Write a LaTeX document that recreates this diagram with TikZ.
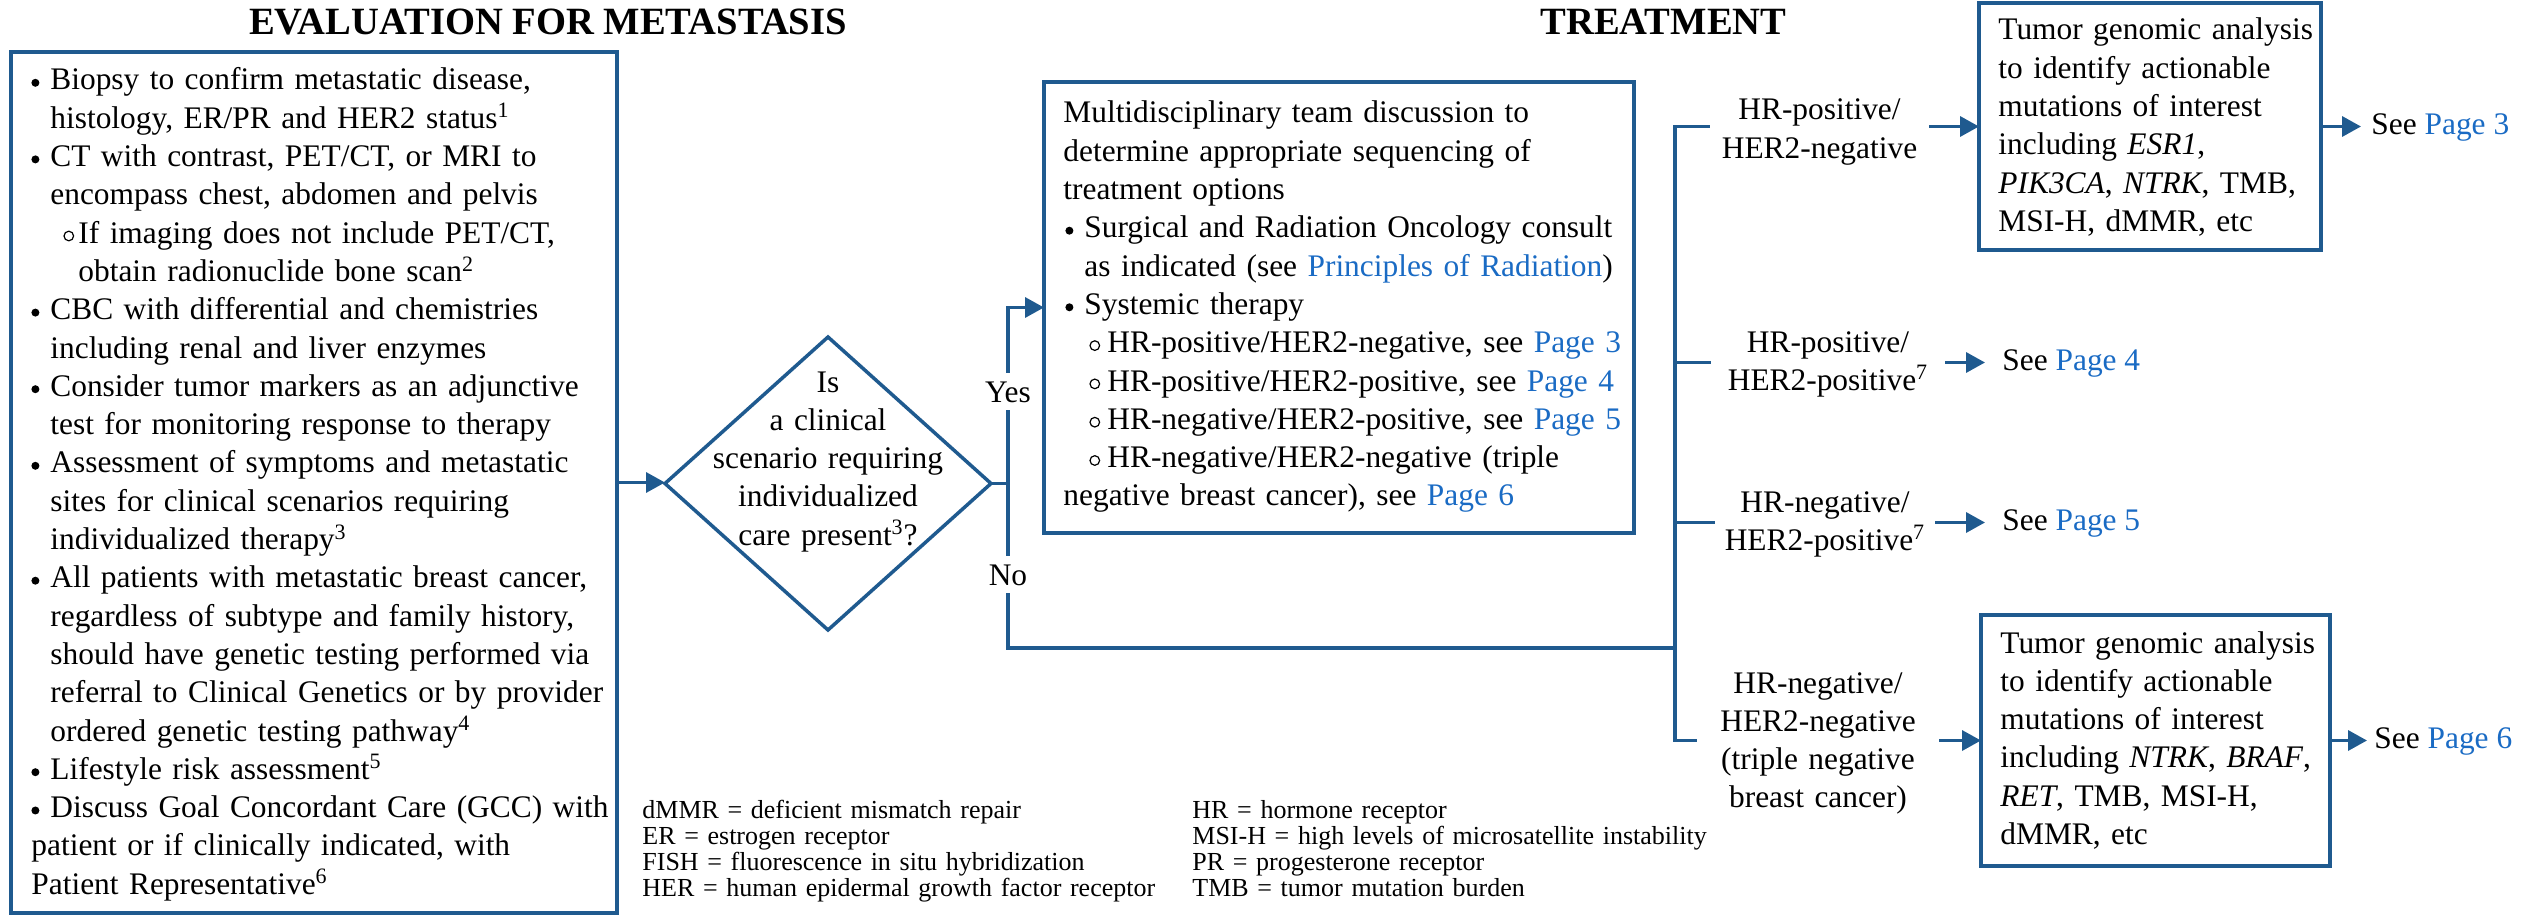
\documentclass[tikz,border=0pt]{standalone}
\usepackage{fontspec}
\setmainfont{Liberation Serif}
\usetikzlibrary{arrows.meta,shapes.geometric}
\definecolor{nccnblue}{HTML}{1F5A8F}
\definecolor{linkblue}{HTML}{1A6BC4}
\newcommand\bul{\tikz[baseline=0pt]\fill (2pt,3.6pt) circle[radius=2pt];}
\newcommand\sbul{\tikz[baseline=0pt]\draw[line width=0.6pt] (2.4pt,3.6pt) circle[radius=2.4pt];}
\newcommand\bfirst[2]{\hangindent=#2\hangafter=1\noindent\makebox[#2][l]{\hspace*{#1}\bul}}
\newcommand\bpar[2]{\par\bfirst{#1}{#2}}
\newcommand\spar[2]{\par\hangindent=#2\hangafter=1\noindent\makebox[#2][l]{\hspace*{#1}\sbul}}
\newcommand\lnk[1]{\textcolor{linkblue}{#1}}
\tikzset{
  box/.style={draw=nccnblue, line width=2pt, inner sep=0pt, outer sep=0pt, anchor=north west},
  conn/.style={draw=nccnblue, line width=1.75pt},
  arr/.style={conn, -{Triangle[length=9.5pt,width=10pt]}},
  body/.style={inner sep=0pt, anchor=base west, align=left, font=\fontsize{15.7}{19.15}\selectfont},
  lbl/.style={inner ysep=0pt, anchor=base, align=center, font=\fontsize{15.7}{19.15}\selectfont},
  see/.style={inner ysep=0pt, anchor=base west, font=\fontsize{15.7}{19.15}\selectfont},
  yn/.style={fill=white, anchor=base, inner xsep=2pt, inner ysep=4pt, font=\fontsize{15.7}{19.15}\selectfont},
  ttl/.style={anchor=base, inner sep=0pt, font=\fontsize{19.3}{22}\selectfont\bfseries},
  leg/.style={anchor=base west, inner sep=0pt, align=left, text width=280pt, font=\fontsize{13}{13.15}\selectfont}
}
\begin{document}
\begin{tikzpicture}[x=0.5pt,y=-0.5pt]
\useasboundingbox (0,0) rectangle (2534,915);
% titles
\node[ttl] (t1) at (548,35) {EVALUATION FOR METASTASIS};
\node[ttl] (t2) at (1663.5,35) {TREATMENT};
% boxes
\node[box, minimum width=303pt, minimum height=430.5pt] (eval) at (11,52) {};
\node[box, minimum width=295pt, minimum height=225.5pt] (mid) at (1044,82) {};
\node[box, minimum width=171pt, minimum height=123.5pt] (top) at (1979,3) {};
\node[box, minimum width=174.5pt, minimum height=125.5pt] (bot) at (1981,615) {};
\node[draw=nccnblue, line width=1.75pt, shape=diamond, minimum width=163pt, minimum height=146.5pt, inner sep=0pt, outer sep=0pt] (dia) at (828,483.5) {};
% box texts
\node[body, text width=300pt] (evaltxt) at (31,90) {\bfirst{0pt}{9.5pt}Biopsy to confirm metastatic disease,\newline histology, ER/PR and HER2 status\textsuperscript{1}
\bpar{0pt}{9.5pt}CT with contrast, PET/CT, or MRI to\newline encompass chest, abdomen and pelvis
\spar{16pt}{23.5pt}If imaging does not include PET/CT,\newline obtain radionuclide bone scan\textsuperscript{2}
\bpar{0pt}{9.5pt}CBC with differential and chemistries\newline including renal and liver enzymes
\bpar{0pt}{9.5pt}Consider tumor markers as an adjunctive\newline test for monitoring response to therapy
\bpar{0pt}{9.5pt}Assessment of symptoms and metastatic\newline sites for clinical scenarios requiring\newline individualized therapy\textsuperscript{3}
\bpar{0pt}{9.5pt}All patients with metastatic breast cancer,\newline regardless of subtype and family history,\newline should have genetic testing performed via\newline referral to Clinical Genetics or by provider\newline ordered genetic testing pathway\textsuperscript{4}
\bpar{0pt}{9.5pt}Lifestyle risk assessment\textsuperscript{5}
\bpar{0pt}{9.5pt}Discuss Goal Concordant Care (GCC) with\newline patient or if clinically indicated, with\newline Patient Representative\textsuperscript{6}};
\node[body, text width=290pt] (midtxt) at (1063,123) {Multidisciplinary team discussion to\newline determine appropriate sequencing of\newline treatment options
\bpar{1pt}{10.5pt}Surgical and Radiation Oncology consult\newline as indicated (see \lnk{Principles of Radiation})
\bpar{1pt}{10.5pt}Systemic therapy
\spar{13pt}{22pt}HR-positive/HER2-negative, see \lnk{Page 3}
\spar{13pt}{22pt}HR-positive/HER2-positive, see \lnk{Page 4}
\spar{13pt}{22pt}HR-negative/HER2-positive, see \lnk{Page 5}
\spar{13pt}{22pt}HR-negative/HER2-negative (triple\newline negative breast cancer), see \lnk{Page 6}};
\node[body, text width=168pt] (toptxt) at (1998,40) {Tumor genomic analysis\newline to identify actionable\newline mutations of interest\newline including \textit{ESR1},\newline \textit{PIK3CA}, \textit{NTRK}, TMB,\newline MSI-H, dMMR, etc};
\node[body, text width=170pt] (bottxt) at (2000,653) {Tumor genomic analysis\newline to identify actionable\newline mutations of interest\newline including \textit{NTRK}, \textit{BRAF},\newline \textit{RET}, TMB, MSI-H,\newline dMMR, etc};
\node[lbl, text width=165pt, inner xsep=0pt] (diatxt) at (828,392) {Is\\a clinical\\scenario requiring\\individualized\\care present\textsuperscript{3}?};
% branch labels
\node[lbl, text width=100pt, inner xsep=4.75pt] (lab1) at (1819.5,120) {HR-positive/\\HER2-negative};
\node[lbl, text width=105pt, inner xsep=6pt] (lab2) at (1828,352) {HR-positive/\\HER2-positive\textsuperscript{7}};
\node[lbl, text width=105pt, inner xsep=2.5pt] (lab3) at (1825,512) {HR-negative/\\HER2-positive\textsuperscript{7}};
\node[lbl, text width=100pt, inner xsep=10.5pt] (lab4) at (1818,693) {HR-negative/\\HER2-negative\\(triple negative\\breast cancer)};
% see nodes
\node[see, inner xsep=5pt] (see3) at (2361,135) {See \lnk{Page 3}};
\node[see, inner xsep=8.5pt] (see4) at (1985,370) {See \lnk{Page 4}};
\node[see, inner xsep=8.5pt] (see5) at (1985,530) {See \lnk{Page 5}};
\node[see, inner xsep=3.5pt] (see6) at (2367,748) {See \lnk{Page 6}};
% coordinates
\coordinate (split) at (1008,483.5);
\coordinate (bno) at (1675,648);
\coordinate (b1) at (1675,126.5);
\coordinate (b2) at (1675,362.5);
\coordinate (b3) at (1675,522.5);
\coordinate (b4) at (1675,740.5);
% connectors
\draw[arr] (eval.east) -- (eval.east -| dia.west);
\draw[arr] (dia.east) -- (split) |- (mid.west);
\draw[conn] (split) |- (bno);
\draw[conn] (lab1.west |- b1) -- (b1) -- (b4) -- (lab4.west |- b4);
\draw[conn] (b2) -- (lab2.west |- b2);
\draw[conn] (b3) -- (lab3.west |- b3);
\draw[arr] (lab1.east |- top.west) -- (top.west);
\draw[arr] (lab2.east |- b2) -- (see4.west |- b2);
\draw[arr] (lab3.east |- b3) -- (see5.west |- b3);
\draw[arr] (lab4.east |- bot.west) -- (bot.west);
\draw[arr] (top.east) -- (top.east -| see3.west);
\draw[arr] (bot.east) -- (bot.east -| see6.west);
% yes / no
\node[yn] (yes) at (1008,402) {Yes};
\node[yn] (no) at (1008,585) {No};
% legend
\node[leg] (legL) at (642,818) {dMMR = deficient mismatch repair\\ER = estrogen receptor\\FISH = fluorescence in situ hybridization\\HER = human epidermal growth factor receptor};
\node[leg] (legR) at (1192,818) {HR = hormone receptor\\MSI-H = high levels of microsatellite instability\\PR = progesterone receptor\\TMB = tumor mutation burden};
\end{tikzpicture}
\end{document}
